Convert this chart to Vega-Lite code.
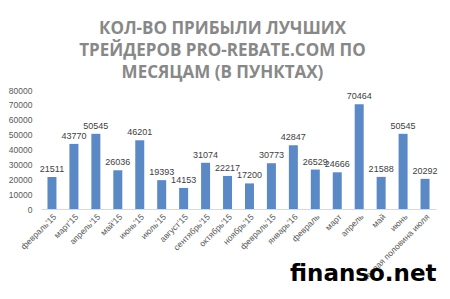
{
  "$schema": "https://vega.github.io/schema/vega-lite/v6.json",
  "width": 395,
  "height": 119,
  "autosize": "none",
  "padding": {"left": 41, "top": 90, "right": 14, "bottom": 90},
  "background": "white",
  "title": {
    "text": ["КОЛ-ВО ПРИБЫЛИ ЛУЧШИХ", "ТРЕЙДЕРОВ PRO-REBATE.COM ПО", "МЕСЯЦАМ (В ПУНКТАХ)"],
    "font": "Open Sans",
    "fontSize": 17,
    "fontWeight": "bold",
    "color": "#888888",
    "lineHeight": 22,
    "anchor": "middle",
    "offset": 8,
    "dx": -16,
    "dy": 4
  },
  "data": {
    "values": [
      {"m": "февраль'15", "v": 21511},
      {"m": "март'15", "v": 43770},
      {"m": "апрель'15", "v": 50545},
      {"m": "май'15", "v": 26036},
      {"m": "июнь'15", "v": 46201},
      {"m": "июль'15", "v": 19393},
      {"m": "август'15", "v": 14153},
      {"m": "сентябрь'15", "v": 31074},
      {"m": "октябрь'15", "v": 22217},
      {"m": "ноябрь'15", "v": 17200},
      {"m": "февраль'15\u200b", "v": 30773},
      {"m": "январь'16", "v": 42847},
      {"m": "февраль", "v": 26529},
      {"m": "март", "v": 24666},
      {"m": "апрель", "v": 70464},
      {"m": "май", "v": 21588},
      {"m": "июнь", "v": 50545},
      {"m": "первая половина июля", "v": 20292}
    ]
  },
  "encoding": {
    "x": {
      "field": "m",
      "type": "nominal",
      "sort": null,
      "scale": {"paddingInner": 0.59, "paddingOuter": 0.295},
      "axis": {
        "title": "finanso.net",
        "titleFont": "DejaVu Sans",
        "titleFontSize": 23,
        "titleFontWeight": "bold",
        "titleColor": "#000000",
        "titleAnchor": "end",
        "titleAlign": "right",
        "titleBaseline": "alphabetic",
        "titleY": 71,
        "labelAngle": -45,
        "labelFont": "Liberation Sans",
        "labelFontSize": 8.5,
        "labelColor": "#595959",
        "labelPadding": 3,
        "ticks": false,
        "domainColor": "#d9d9d9",
        "domainWidth": 1
      }
    },
    "y": {
      "field": "v",
      "type": "quantitative",
      "scale": {"domain": [0, 80000]},
      "axis": {
        "title": null,
        "values": [0, 10000, 20000, 30000, 40000, 50000, 60000, 70000, 80000],
        "format": "d",
        "grid": false,
        "domain": false,
        "ticks": false,
        "labelFont": "Liberation Sans",
        "labelFontSize": 8.5,
        "labelColor": "#595959",
        "labelPadding": 9
      }
    }
  },
  "layer": [
    {"mark": {"type": "bar", "color": "#5b89c6"}},
    {
      "mark": {"type": "text", "dy": -8, "font": "Liberation Sans", "fontSize": 9, "color": "#404040"},
      "encoding": {"text": {"field": "v", "type": "quantitative", "format": "d"}}
    }
  ],
  "config": {"view": {"stroke": null}}
}
